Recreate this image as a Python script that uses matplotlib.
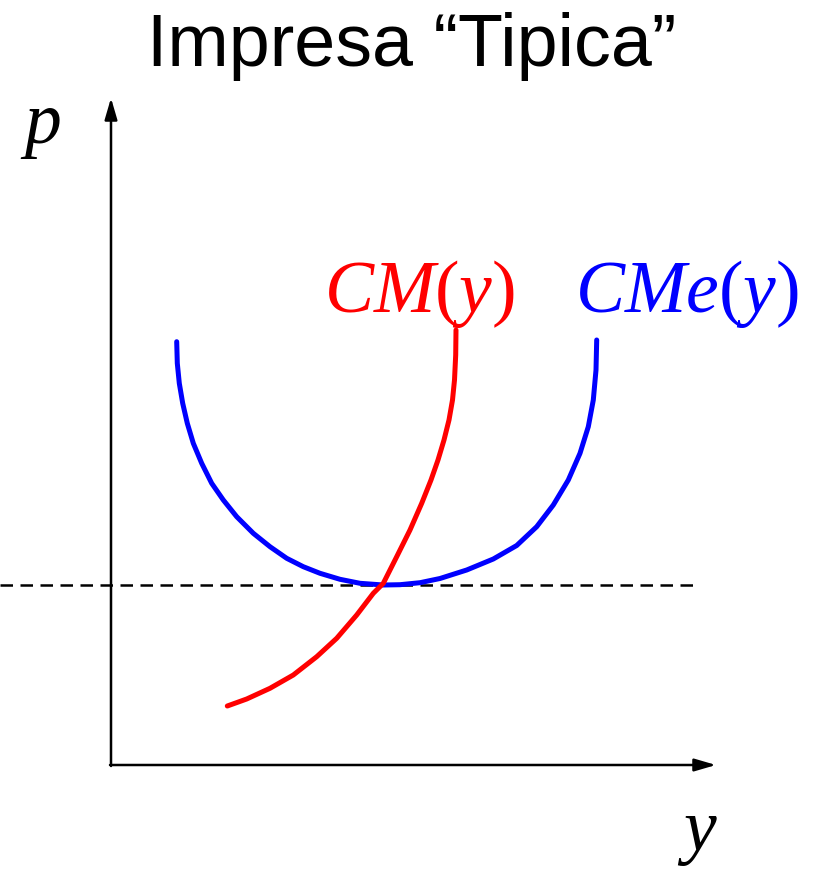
import numpy as np
import matplotlib
matplotlib.use("Agg")
import matplotlib.pyplot as plt

# pixel coordinates (x right, y down)
cme_x = [176.7, 177.3, 179.3, 182.7, 187.3, 193.3, 201.7, 211.7, 223.3, 236.7,
         253.3, 270, 286.7, 303.3, 320, 340, 360, 383.3, 400, 420, 440,
         466.7, 493.3, 516.7, 536.7, 553.3, 568.3, 580, 588.3, 593.3, 596,
         596.7]
cme_y = [341.7, 363.3, 383.3, 403.3, 423.3, 443.3, 463.3, 483.3, 500, 516.7,
         533.3, 546.7, 558.3, 566.7, 573.3, 579.3, 583.3, 585, 584.7, 582.7,
         578.5, 570, 559, 545.5, 526.7, 505, 480, 453.3, 426.7, 400, 370,
         340]

cm_x = [227.3, 246.7, 270, 293.3, 316.7, 336.7, 356.7, 373.3, 383.3, 396.7,
        410, 421.7, 431, 438, 444, 449, 452.5, 454.5, 455.7, 456]
cm_y = [706, 699, 688.3, 675, 656.7, 638.3, 615, 593.3, 583.3, 556.7,
        530, 503.3, 480, 460, 440, 420, 400, 380, 355, 330]

p_min = 585
origin = (111, 765)
x_end = 716
y_end = 98

plt.rcParams['mathtext.fontset'] = 'custom'
plt.rcParams['mathtext.rm'] = 'Liberation Serif'
plt.rcParams['mathtext.it'] = 'Liberation Serif:italic'

fig = plt.figure(figsize=(8.14, 8.71), dpi=100)
ax = fig.add_axes([0, 0, 1, 1])
ax.set_xlim(0, 814)
ax.set_ylim(871, 0)
ax.axis('off')

# axes with arrows
ax.annotate('', xy=(x_end, origin[1]), xytext=(origin[0] - 1, origin[1]),
            arrowprops=dict(arrowstyle='-|>,head_length=1.3,head_width=0.38',
                            lw=1.8, color='black', shrinkA=0, shrinkB=0))
ax.annotate('', xy=(origin[0], y_end), xytext=(origin[0], origin[1] + 1),
            arrowprops=dict(arrowstyle='-|>,head_length=1.3,head_width=0.38',
                            lw=1.8, color='black', shrinkA=0, shrinkB=0))

# minimum average cost
ax.plot([0, 695], [p_min, p_min], color='black', lw=1.8, ls=(0, (5, 3)))

ax.plot(cme_x, cme_y, color='#0000ff', lw=3.6, solid_capstyle='round',
        solid_joinstyle='round')
ax.plot(cm_x, cm_y, color='#ff0000', lw=3.6, solid_capstyle='round',
        solid_joinstyle='round')

ax.text(412, 66, 'Impresa \u201cTipica\u201d', fontsize=53,
        family='Liberation Sans', ha='center', va='baseline')
ax.text(420, 312, r'$CM(y)$', fontsize=53, color='#ff0000',
        ha='center', va='baseline')
ax.text(687, 312, r'$CMe(y)$', fontsize=53, color='#0000ff',
        ha='center', va='baseline')
ax.text(40, 143, r'$p$', fontsize=53, ha='center', va='baseline')
ax.text(697, 850, r'$y$', fontsize=53, ha='center', va='baseline')

fig.savefig('out.png', dpi=100)
